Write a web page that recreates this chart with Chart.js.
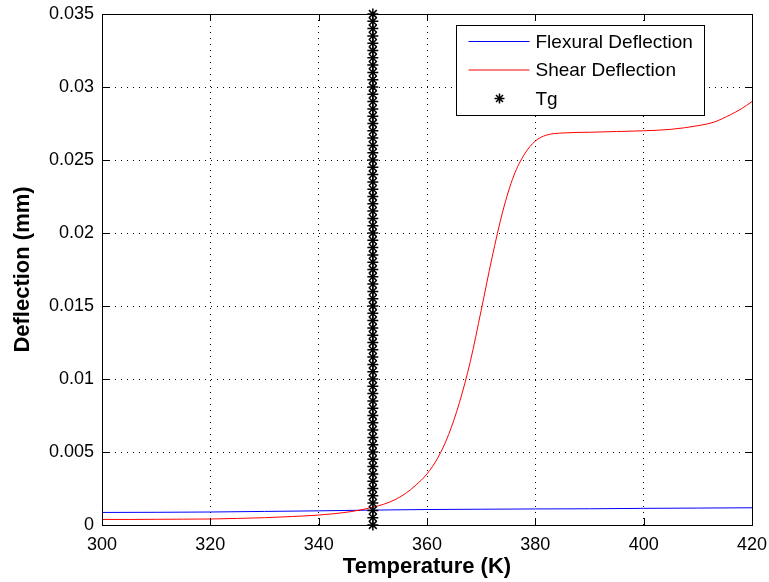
<!DOCTYPE html>
<html>
<head>
<meta charset="utf-8">
<script src="https://cdn.jsdelivr.net/npm/chart.js@4/dist/chart.umd.min.js"></script>
<style>
  html, body { margin: 0; padding: 0; background: #fff; }
  #wrap { width: 769px; height: 582px; }
</style>
</head>
<body>
<div id="wrap"><canvas id="myChart" width="769" height="582"></canvas></div>
<script>
// temperature (K) / deflection (mm)
var flexT = [300, 310, 320, 330, 340, 350, 360, 370, 380, 390, 400, 410, 420];
var flexD = [0.00086, 0.00087, 0.00089, 0.00093, 0.00097, 0.00102, 0.00106, 0.00108, 0.00110, 0.00111, 0.00114, 0.00116, 0.00118];

var shearT = [300, 305, 310, 315, 320, 325, 330, 335, 340, 343, 346, 348, 350, 352, 354, 356, 358, 360,
              362, 364, 366, 368, 370, 372, 374, 376, 378, 380, 382, 385, 390, 395, 400, 405, 410, 413, 416, 418, 420];
var shearD = [0.00038, 0.00038, 0.00039, 0.00040, 0.00041, 0.00045, 0.00050, 0.00058, 0.00068, 0.00078, 0.00092, 0.00105,
              0.00122, 0.00142, 0.00172, 0.00215, 0.00275, 0.00350, 0.00460, 0.00620, 0.00840, 0.01120, 0.01470, 0.01830,
              0.02150, 0.02390, 0.02540, 0.02630, 0.02670, 0.02685, 0.02690, 0.02695, 0.02700, 0.02710, 0.02735, 0.02760,
              0.02810, 0.02850, 0.02900];

var tgTemp = 350;
var tgLevels = [0, 0.0005, 0.001, 0.0015, 0.002, 0.0025, 0.003, 0.0035, 0.004, 0.0045, 0.005, 0.0055, 0.006, 0.0065,
                0.007, 0.0075, 0.008, 0.0085, 0.009, 0.0095, 0.01, 0.0105, 0.011, 0.0115, 0.012, 0.0125, 0.013, 0.0135,
                0.014, 0.0145, 0.015, 0.0155, 0.016, 0.0165, 0.017, 0.0175, 0.018, 0.0185, 0.019, 0.0195, 0.02, 0.0205,
                0.021, 0.0215, 0.022, 0.0225, 0.023, 0.0235, 0.024, 0.0245, 0.025, 0.0255, 0.026, 0.0265, 0.027, 0.0275,
                0.028, 0.0285, 0.029, 0.0295, 0.03, 0.0305, 0.031, 0.0315, 0.032, 0.0325, 0.033, 0.0335, 0.034, 0.0345, 0.035];

var xTicks = [300, 320, 340, 360, 380, 400, 420];
var yTicks = [0, 0.005, 0.01, 0.015, 0.02, 0.025, 0.03, 0.035];

function pts(xs, ys) {
    return xs.map(function (x, i) { return {x: x, y: ys[i]}; });
}

var fontName = "'Liberation Sans', Arial, sans-serif";
var tickLen = 7;

// box round the axes + inward ticks + legend inside the plot, matlab style
var matlabFrame = {
    id: 'matlabFrame',
    afterDraw: function (chart) {
        var ctx = chart.ctx, a = chart.chartArea;
        var xs = chart.scales.x, ys = chart.scales.y;
        ctx.save();
        ctx.strokeStyle = '#000';
        ctx.lineWidth = 1;
        ctx.strokeRect(Math.round(a.left) + 0.5, Math.round(a.top) + 0.5,
                       Math.round(a.right - a.left), Math.round(a.bottom - a.top));
        ctx.beginPath();
        xTicks.forEach(function (v) {
            var px = Math.round(xs.getPixelForValue(v)) + 0.5;
            ctx.moveTo(px, a.bottom); ctx.lineTo(px, a.bottom - tickLen);
            ctx.moveTo(px, a.top); ctx.lineTo(px, a.top + tickLen);
        });
        yTicks.forEach(function (v) {
            var py = Math.round(ys.getPixelForValue(v)) + 0.5;
            ctx.moveTo(a.left, py); ctx.lineTo(a.left + tickLen, py);
            ctx.moveTo(a.right, py); ctx.lineTo(a.right - tickLen, py);
        });
        ctx.stroke();

        // legend
        var bx = Math.round(a.right) - 295.5, by = Math.round(a.top) + 11.5, bw = 248, bh = 90;
        ctx.fillStyle = '#fff';
        ctx.fillRect(bx, by, bw, bh);
        ctx.strokeRect(bx, by, bw, bh);
        ctx.font = '19px ' + fontName;
        ctx.textBaseline = 'middle';
        ctx.fillStyle = '#000';
        chart.data.datasets.forEach(function (ds, i) {
            var ry = by + 16 + i * 28.5;
            if (ds.showLine === false) {
                var cx = bx + 43, r = 5;
                ctx.beginPath();
                ctx.moveTo(cx - r, ry); ctx.lineTo(cx + r, ry);
                ctx.moveTo(cx, ry - r); ctx.lineTo(cx, ry + r);
                ctx.moveTo(cx - r * 0.7, ry - r * 0.7); ctx.lineTo(cx + r * 0.7, ry + r * 0.7);
                ctx.moveTo(cx - r * 0.7, ry + r * 0.7); ctx.lineTo(cx + r * 0.7, ry - r * 0.7);
                ctx.strokeStyle = ds.borderColor;
                ctx.lineWidth = 1.5;
                ctx.stroke();
            } else {
                ctx.beginPath();
                ctx.moveTo(bx + 12, ry); ctx.lineTo(bx + 73, ry);
                ctx.strokeStyle = ds.borderColor;
                ctx.lineWidth = 1;
                ctx.stroke();
            }
            ctx.fillText(ds.label, bx + 79, ry + 1);
        });
        ctx.restore();
    }
};

var ctx = document.getElementById('myChart').getContext('2d');

var deflectionChart = new Chart(ctx, {
    type: 'line',
    data: {
        datasets: [{
            label: 'Flexural Deflection',
            data: pts(flexT, flexD),
            borderColor: '#0000ff',
            borderWidth: 1,
            pointRadius: 0,
            cubicInterpolationMode: 'monotone',
            order: 2
        }, {
            label: 'Shear Deflection',
            data: pts(shearT, shearD),
            borderColor: '#ff0000',
            borderWidth: 1,
            pointRadius: 0,
            cubicInterpolationMode: 'monotone',
            order: 1
        }, {
            label: 'Tg',
            data: tgLevels.map(function (v) { return {x: tgTemp, y: v}; }),
            showLine: false,
            borderColor: '#000',
            backgroundColor: '#000',
            pointStyle: 'star',
            pointRadius: 5.5,
            pointBorderWidth: 1.5,
            clip: false,
            order: 0
        }]
    },
    options: {
        responsive: false,
        animation: false,
        layout: { padding: { top: 14, right: 17, left: 0, bottom: 0 } },
        plugins: {
            legend: { display: false },
            tooltip: { enabled: false }
        },
        scales: {
            x: {
                type: 'linear',
                min: 300,
                max: 420,
                afterBuildTicks: function (s) { s.ticks = xTicks.map(function (v) { return {value: v}; }); },
                afterFit: function (s) { s.height = 57; s.paddingLeft = 0; s.paddingRight = 0; },
                grid: { color: '#000', lineWidth: 1, drawTicks: false },
                border: { color: '#000', width: 1, dash: [1, 5] },
                ticks: {
                    color: '#000',
                    padding: 9,
                    maxRotation: 0,
                    font: { family: fontName, size: 18 },
                    callback: function (v) { return String(v); }
                },
                title: {
                    display: true,
                    text: 'Temperature (K)',
                    color: '#000',
                    padding: { top: 0, bottom: 2 },
                    font: { family: fontName, size: 22, weight: 'bold' }
                }
            },
            y: {
                type: 'linear',
                min: 0,
                max: 0.035,
                afterBuildTicks: function (s) { s.ticks = yTicks.map(function (v) { return {value: v}; }); },
                afterFit: function (s) { s.width = 102; s.paddingTop = 0; s.paddingBottom = 0; },
                grid: { color: '#000', lineWidth: 1, drawTicks: false },
                border: { color: '#000', width: 1, dash: [1, 5] },
                ticks: {
                    color: '#000',
                    padding: 8,
                    font: { family: fontName, size: 18 },
                    callback: function (v) { return String(Number(v.toFixed(3))); }
                },
                title: {
                    display: true,
                    text: 'Deflection (mm)',
                    color: '#000',
                    padding: { top: 10, bottom: 0 },
                    font: { family: fontName, size: 22, weight: 'bold' }
                }
            }
        }
    },
    plugins: [matlabFrame]
});
</script>
</body>
</html>
